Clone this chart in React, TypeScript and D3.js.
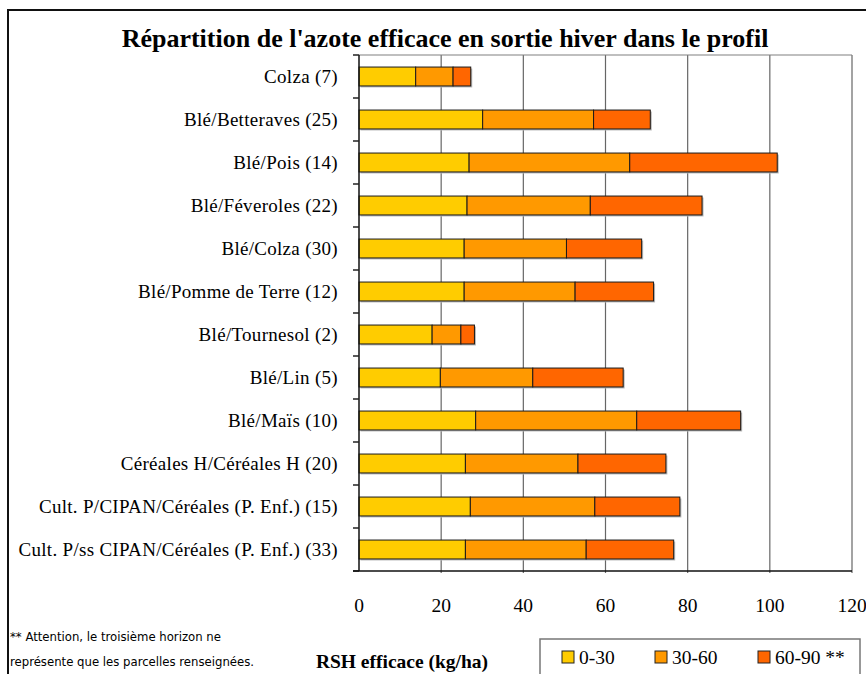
import { useEffect, useRef } from 'react';
import * as d3 from 'd3';

const categories = [
  'Colza (7)',
  'Blé/Betteraves (25)',
  'Blé/Pois (14)',
  'Blé/Féveroles (22)',
  'Blé/Colza (30)',
  'Blé/Pomme de Terre (12)',
  'Blé/Tournesol (2)',
  'Blé/Lin (5)',
  'Blé/Maïs (10)',
  'Céréales H/Céréales H (20)',
  'Cult. P/CIPAN/Céréales (P. Enf.) (15)',
  'Cult. P/ss CIPAN/Céréales (P. Enf.) (33)',
];

// kg/ha per horizon
const horizon0_30 = [13.8, 30.1, 26.8, 26.3, 25.6, 25.6, 17.8, 19.8, 28.4, 25.9, 27.1, 25.9];
const horizon30_60 = [9.1, 27.0, 39.1, 30.0, 24.9, 27.0, 7.0, 22.5, 39.2, 27.4, 30.3, 29.4];
const horizon60_90 = [4.3, 13.8, 35.9, 27.2, 18.3, 19.1, 3.3, 22.0, 25.3, 21.4, 20.7, 21.3];

const seriesNames = ['0-30', '30-60', '60-90 **'];
const seriesColors = ['#FFCC00', '#FF9900', '#FF6600'];
const xTicks = [0, 20, 40, 60, 80, 100, 120];

const serif = "'Liberation Serif', Tinos, 'Times New Roman', 'DejaVu Serif', serif";

export default function App() {
  const svgRef = useRef<SVGSVGElement>(null);

  useEffect(() => {
    if (!svgRef.current) return;
    const svg = d3.select(svgRef.current);
    svg.selectAll('*').remove();

    const W = 866;
    const H = 674;
    const plot = { left: 359, right: 852, top: 55, bottom: 571 };

    svg.attr('width', W).attr('height', H);

    // chart frame
    svg.append('rect')
      .attr('x', 8).attr('y', 10)
      .attr('width', 880).attr('height', 700)
      .attr('fill', 'white')
      .attr('stroke', '#111').attr('stroke-width', 2);

    // title
    svg.append('text')
      .attr('x', 445).attr('y', 47)
      .attr('text-anchor', 'middle')
      .attr('font-family', serif)
      .attr('font-weight', 'bold')
      .attr('font-size', 26)
      .text("Répartition de l'azote efficace en sortie hiver dans le profil");

    const xScale = d3.scaleLinear().domain([0, 120]).range([plot.left, plot.right]);
    const yScale = d3.scaleBand<string>()
      .domain(categories)
      .range([plot.top, plot.bottom])
      .paddingInner(0.56)
      .paddingOuter(0.28);

    // vertical grid
    svg.append('g')
      .selectAll('line')
      .data(xTicks.slice(1))
      .join('line')
      .attr('x1', d => xScale(d)).attr('x2', d => xScale(d))
      .attr('y1', plot.top).attr('y2', plot.bottom + 2)
      .attr('stroke', '#666')
      .attr('stroke-width', 1.2);

    // top border of plot area
    svg.append('line')
      .attr('x1', plot.left).attr('x2', plot.right)
      .attr('y1', plot.top).attr('y2', plot.top)
      .attr('stroke', '#808080').attr('stroke-width', 1.2);

    // stacked data
    const rows = categories.map((c, i) => ({
      cat: c,
      a: horizon0_30[i],
      b: horizon30_60[i],
      c: horizon60_90[i],
    }));
    const stack = d3.stack<typeof rows[number]>().keys(['a', 'b', 'c']);
    const layers = stack(rows);

    // bar shadows
    svg.append('g')
      .selectAll('rect')
      .data(rows)
      .join('rect')
      .attr('x', xScale(0) + 1.5)
      .attr('y', d => (yScale(d.cat) ?? 0) + 1.5)
      .attr('width', d => xScale(d.a + d.b + d.c) - xScale(0))
      .attr('height', yScale.bandwidth())
      .attr('fill', '#b8b8b8');

    svg.append('g')
      .selectAll('g')
      .data(layers)
      .join('g')
      .attr('fill', (_, i) => seriesColors[i])
      .selectAll('rect')
      .data(d => d)
      .join('rect')
      .attr('x', d => xScale(d[0]))
      .attr('y', d => yScale(d.data.cat) ?? 0)
      .attr('width', d => xScale(d[1]) - xScale(d[0]))
      .attr('height', yScale.bandwidth())
      .attr('stroke', '#1a1a1a')
      .attr('stroke-width', 1);

    // left axis with ticks at band boundaries
    svg.append('line')
      .attr('x1', plot.left).attr('x2', plot.left)
      .attr('y1', plot.top).attr('y2', plot.bottom)
      .attr('stroke', '#111').attr('stroke-width', 1.5);
    const step = yScale.step();
    svg.append('g')
      .selectAll('line')
      .data(d3.range(categories.length + 1))
      .join('line')
      .attr('x1', plot.left - 6).attr('x2', plot.left)
      .attr('y1', i => plot.top + i * step)
      .attr('y2', i => plot.top + i * step)
      .attr('stroke', '#222').attr('stroke-width', 1.5);

    // bottom axis
    svg.append('line')
      .attr('x1', plot.left - 6).attr('x2', plot.right)
      .attr('y1', plot.bottom).attr('y2', plot.bottom)
      .attr('stroke', '#111').attr('stroke-width', 1.5);

    // category labels
    svg.append('g')
      .selectAll('text')
      .data(categories)
      .join('text')
      .attr('x', 338)
      .attr('y', d => (yScale(d) ?? 0) + yScale.bandwidth() / 2)
      .attr('dy', '0.35em')
      .attr('text-anchor', 'end')
      .attr('font-family', serif)
      .attr('font-size', 19)
      .attr('letter-spacing', 0.3)
      .text(d => d);

    // x tick labels
    svg.append('g')
      .selectAll('text')
      .data(xTicks)
      .join('text')
      .attr('x', d => xScale(d))
      .attr('y', 605)
      .attr('dy', '0.35em')
      .attr('text-anchor', 'middle')
      .attr('font-family', serif)
      .attr('font-size', 19.5)
      .text(d => d);

    // x axis title
    svg.append('text')
      .attr('x', 402).attr('y', 668)
      .attr('text-anchor', 'middle')
      .attr('font-family', serif)
      .attr('font-weight', 'bold')
      .attr('font-size', 19.5)
      .text('RSH efficace (kg/ha)');

    // footnote
    const note = svg.append('text')
      .attr('font-family', "'Liberation Sans Narrow', 'DejaVu Sans Condensed', sans-serif")
      .attr('font-stretch', 'condensed')
      .attr('font-size', 13);
    note.append('tspan').attr('x', 10).attr('y', 641).text('** Attention, le troisième horizon ne');
    note.append('tspan').attr('x', 10).attr('y', 666).text('représente que les parcelles renseignées.');

    // legend
    svg.append('rect')
      .attr('x', 540).attr('y', 639)
      .attr('width', 320).attr('height', 60)
      .attr('fill', 'white')
      .attr('stroke', '#777').attr('stroke-width', 1.5);
    const legendX = [562, 655, 758];
    const lg = svg.append('g')
      .selectAll('g')
      .data(seriesNames)
      .join('g')
      .attr('transform', (_, i) => `translate(${legendX[i]},651)`);
    lg.append('rect')
      .attr('width', 12).attr('height', 12)
      .attr('fill', (_, i) => seriesColors[i])
      .attr('stroke', '#222').attr('stroke-width', 1);
    lg.append('text')
      .attr('x', 17).attr('y', 6)
      .attr('dy', '0.35em')
      .attr('font-family', serif)
      .attr('font-size', 19.5)
      .text(d => d);
  }, []);

  return (
    <div style={{ position: 'fixed', top: 0, left: 0 }}>
      <svg ref={svgRef} style={{ display: 'block' }} />
    </div>
  );
}
